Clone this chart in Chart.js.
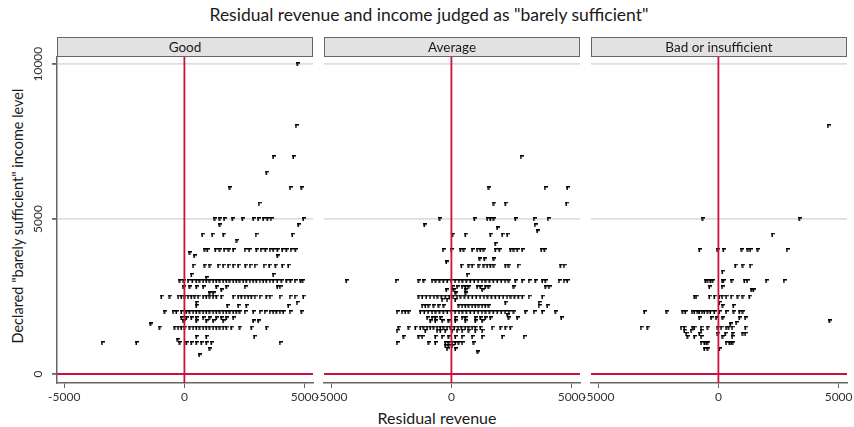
<!DOCTYPE html>
<html>
<head>
<meta charset="utf-8">
<script src="https://cdn.jsdelivr.net/npm/chart.js@4.4.1/dist/chart.umd.min.js"></script>
<style>
  body{margin:0;width:854px;height:427px;background:#fff;font-family:Lato,"DejaVu Sans",sans-serif;position:relative;overflow:hidden;color:#1a1a1a}
  .box{position:absolute}
  .strip{position:absolute;top:37px;height:18px;width:254px;background:#e2e2e2;border:1px solid #666;text-align:center;font-size:13.5px;line-height:18px;z-index:2}
  #title{position:absolute;top:4px;left:0;width:858px;text-align:center;font-size:17.5px}
  #ytitle{position:absolute;left:17px;top:216px;transform:translate(-50%,-50%) rotate(-90deg);white-space:nowrap;font-size:14.5px}
  #xtitle{position:absolute;top:408px;left:0;width:874px;text-align:center;font-size:16px}
</style>
</head>
<body>
<div id="title">Residual revenue and income judged as "barely sufficient"</div>
<div id="ytitle">Declared "barely sufficient" income level</div>
<div id="xtitle">Residual revenue</div>

<script>
// panel names
const panels = ["Good", "Average", "Bad or insufficient"];
const xTicks = [-5000, 0, 5000];
const yTicks = [0, 5000, 10000];

// [residual revenue, declared income]
const goodPoints = [
  [4736,10000],[4667,8000],[3722,7000],[4556,7000],[3446,6500],[1917,6000],[4417,6000],[4904,6000],[3125,5500],
  [1292,5000],[1500,5000],[1681,5000],[2028,5000],[2445,5000],[2889,5000],[3097,5000],[3306,5000],[3486,5000],[3625,5000],[4972,5000],
  [1500,4800],[4764,4800],
  [764,4500],[1181,4500],[1653,4500],[3000,4500],[4514,4500],[2208,4300],
  [875,4000],[986,4000],[1319,4000],[1500,4000],[1681,4000],[1875,4000],[2056,4000],[2542,4000],[2722,4000],[3028,4000],
  [3208,4000],[3403,4000],[3583,4000],[3722,4000],[3903,4000],[4097,4000],[4278,4000],[4458,4000],[4653,4000],
  [250,3900],[431,3800],[3903,3800],
  [389,3500],[875,3500],[1083,3500],[1431,3500],[1639,3500],[1847,3500],[2056,3500],[2264,3500],[2569,3500],[2750,3500],
  [2958,3500],[3333,3500],[3556,3500],[3819,3500],[4097,3500],[4347,3500],
  [319,3200],[3722,3200],[944,3100],
  [-167,3000],[0,3000],[181,3000],[361,3000],[528,3000],[667,3000],[806,3000],[944,3000],[1083,3000],[1222,3000],[1361,3000],
  [1500,3000],[1639,3000],[1778,3000],[1917,3000],[2056,3000],[2194,3000],[2333,3000],[2472,3000],[2611,3000],[2750,3000],
  [2889,3000],[3028,3000],[3167,3000],[3306,3000],[3444,3000],[3583,3000],[3722,3000],[3889,3000],[4069,3000],[4278,3000],
  [4444,3000],[4625,3000],[4861,3000],[4950,3000],
  [-28,2800],[250,2800],[528,2800],[806,2800],[1361,2800],[1778,2800],[2542,2800],[3889,2800],[4000,2800],
  [1569,2700],[1083,2600],[1222,2600],
  [-931,2500],[-583,2500],[-236,2500],[-97,2500],[42,2500],[181,2500],[319,2500],[458,2500],[597,2500],[806,2500],[944,2500],
  [1083,2500],[1222,2500],[1361,2500],[1569,2500],[2056,2500],[2264,2500],[2403,2500],[2542,2500],[2681,2500],[2819,2500],
  [2958,2500],[3167,2500],[3444,2500],[3583,2500],[4000,2500],[4417,2500],[4625,2500],[4972,2500],
  [528,2300],[4708,2300],[528,2200],[1819,2200],[2264,2200],[2611,2200],[4347,2200],
  [-792,2000],[-444,2000],[-306,2000],[-97,2000],[111,2000],[250,2000],[389,2000],[528,2000],[667,2000],[806,2000],[944,2000],
  [1083,2000],[1222,2000],[1361,2000],[1500,2000],[1639,2000],[1778,2000],[1917,2000],[2056,2000],[2194,2000],[2333,2000],
  [2542,2000],[2889,2000],[3167,2000],[3375,2000],[3583,2000],[3722,2000],[3861,2000],[4000,2000],[4139,2000],[4417,2000],[4903,2000],
  [-97,1800],[111,1800],[319,1800],[528,1800],[806,1800],[1083,1800],[1361,1800],[1569,1800],[1778,1800],[2056,1800],
  [-28,1700],[528,1700],[944,1700],[1222,1700],[1639,1700],[2889,1700],[3097,1700],[-1375,1600],
  [-1000,1500],[-375,1500],[-236,1500],[-97,1500],[42,1500],[250,1500],[389,1500],[528,1500],[667,1500],[806,1500],[944,1500],
  [1083,1500],[1222,1500],[1361,1500],[1500,1500],[1639,1500],[1778,1500],[1986,1500],[2333,1500],[2819,1500],[3444,1500],
  [528,1200],[944,1200],[2930,1200],[-250,1100],
  [-3403,1000],[-1972,1000],[-167,1000],[111,1000],[319,1000],[528,1000],[736,1000],[944,1000],[1153,1000],[4000,1000],
  [1083,800],[639,600]
];

const averagePoints = [
  [2917,7000],[1583,6000],[3917,6000],[4847,6000],[1792,5500],[2278,5500],[4806,5500],
  [-458,5000],[986,5000],[1514,5000],[1653,5000],[1792,5000],[2695,5000],[3458,5000],[4042,5000],
  [-1097,4800],[3500,4800],[1931,4700],[3597,4600],
  [83,4500],[611,4500],[1653,4500],[2139,4500],[2347,4500],[1861,4200],
  [-319,4000],[28,4000],[403,4000],[542,4000],[889,4000],[1097,4000],[1236,4000],[1375,4000],[1861,4000],[2028,4000],
  [2486,4000],[2625,4000],[2764,4000],[2972,4000],[3764,4000],[3903,4000],
  [1208,3700],[1403,3700],[1792,3700],[-181,3600],
  [444,3500],[750,3500],[889,3500],[1167,3500],[1375,3500],[1514,3500],[1653,3500],[1792,3500],[2278,3500],[2417,3500],
  [2792,3500],[4569,3500],[4708,3500],[681,3200],
  [-4347,3000],[-2278,3000],[-1333,3000],[-1125,3000],[-778,3000],[-620,3000],[-460,3000],[-300,3000],[-140,3000],[20,3000],
  [180,3000],[340,3000],[500,3000],[660,3000],[820,3000],[980,3000],[1140,3000],[1300,3000],[1460,3000],[1620,3000],
  [1780,3000],[1940,3000],[2100,3000],[2260,3000],[2417,3000],[2694,3000],[2972,3000],[3250,3000],[3528,3000],[3806,3000],
  [3944,3000],[4500,3000],[4708,3000],[4847,3000],
  [56,2800],[264,2800],[472,2800],[611,2800],[750,2800],[1097,2800],[1236,2800],[1444,2800],[1583,2800],[2625,2800],[3944,2800],[4083,2800],
  [-181,2700],[125,2700],[611,2700],[1306,2700],[208,2600],[625,2600],
  [-1333,2500],[-1180,2500],[-1020,2500],[-860,2500],[-700,2500],[-540,2500],[-380,2500],[-220,2500],[-60,2500],[100,2500],
  [260,2500],[420,2500],[580,2500],[740,2500],[900,2500],[1060,2500],[1220,2500],[1380,2500],[1540,2500],[1700,2500],
  [1860,2500],[2020,2500],[2180,2500],[2340,2500],[2500,2500],[2660,2500],[2820,2500],[2980,2500],[3250,2500],[3806,2500],
  [-361,2400],[-153,2400],[194,2400],[2278,2300],[3667,2300],
  [-1194,2200],[-1056,2200],[-917,2200],[-708,2200],[-500,2200],[-292,2200],[333,2200],[472,2200],[611,2200],[750,2200],
  [889,2200],[1028,2200],[1167,2200],[1306,2200],[1444,2200],[1583,2200],[3667,2200],[4014,2200],
  [-2236,2000],[-2028,2000],[-1889,2000],[-1750,2000],[-1264,2000],[-1100,2000],[-940,2000],[-780,2000],[-620,2000],[-460,2000],
  [-300,2000],[-140,2000],[20,2000],[180,2000],[340,2000],[500,2000],[660,2000],[820,2000],[980,2000],[1140,2000],[1300,2000],
  [1460,2000],[1620,2000],[1780,2000],[1940,2000],[2100,2000],[2260,2000],[2420,2000],[2625,2000],[3111,2000],[3458,2000],
  [3806,2000],[4361,2000],[2361,1900],
  [-986,1800],[-778,1800],[-639,1800],[-431,1800],[194,1800],[472,1800],[611,1800],[1028,1800],[1236,1800],[1444,1800],
  [1653,1800],[2417,1800],[2764,1800],[4597,1800],
  [-847,1700],[-639,1700],[-361,1700],[-83,1700],[194,1700],[611,1700],[1028,1700],[1306,1700],
  [-2167,1500],[-1750,1500],[-1472,1500],[-1264,1500],[-1125,1500],[-986,1500],[-847,1500],[-708,1500],[-569,1500],[-431,1500],
  [-292,1500],[-153,1500],[0,1500],[150,1500],[300,1500],[450,1500],[600,1500],[750,1500],[889,1500],[1028,1500],[1236,1500],
  [1722,1500],[2069,1500],[2278,1500],[2486,1500],
  [-2236,1400],[-1056,1400],[-569,1400],[-431,1400],[-222,1400],[56,1400],[264,1400],[472,1400],[750,1400],[1028,1400],[1306,1400],
  [-1958,1200],[-1333,1200],[-1194,1200],[-639,1200],[-361,1200],[-83,1200],[194,1200],[472,1200],[889,1200],[1306,1200],
  [2139,1200],[3042,1200],
  [-2236,1000],[-917,1000],[-639,1000],[-222,1000],[-83,1000],[56,1000],[194,1000],[333,1000],[472,1000],[958,1000],
  [-222,900],[-83,900],[56,900],[-153,800],[194,800],[1125,700]
];

const badPoints = [
  [4583,8000],[-625,5000],[3403,5000],[2264,4500],
  [-764,4000],[-28,4000],[236,4000],[1000,4000],[1250,4000],[1347,4000],[1667,4000],[2875,4000],
  [736,3500],[1042,3500],[1347,3500],[194,3300],
  [-514,3000],[-417,3000],[-306,3000],[-208,3000],[181,3000],[236,3000],[583,3000],[1111,3000],[1222,3000],[2014,3000],[2750,3000],
  [-347,2800],[181,2800],[1389,2700],[1486,2700],
  [-972,2500],[-903,2500],[-347,2500],[-139,2500],[69,2500],[181,2500],[347,2500],[556,2500],[833,2500],[1042,2500],[1319,2500],
  [69,2300],[208,2200],[653,2200],
  [-3056,2000],[-2125,2000],[-1458,2000],[-1347,2000],[-1069,2000],[-972,2000],[-833,2000],[-764,2000],[-653,2000],[-556,2000],
  [-417,2000],[-306,2000],[-139,2000],[69,2000],[347,2000],[667,2000],[903,2000],[1042,2000],
  [-764,1800],[-278,1800],[-69,1800],[208,1800],[903,1800],[1139,1800],
  [4653,1700],[528,1600],[764,1650],
  [-3194,1500],[-2917,1500],[-1528,1500],[-1389,1500],[-1042,1500],[-972,1500],[-694,1500],[-417,1500],[0,1500],[139,1500],
  [347,1500],[458,1500],[597,1500],[1153,1500],
  [-1389,1400],[-1111,1400],[-694,1400],
  [-1319,1300],[-764,1300],[0,1300],[319,1300],[625,1300],[1042,1300],[1139,1300],
  [-1250,1200],[-972,1200],[-694,1200],[208,1200],[597,1200],
  [-694,1000],[-556,1000],[-486,1000],[-417,1000],[347,1000],[486,1000],[556,1000],[625,1000],
  [-556,800],[-417,800],[69,800]
];

const allPoints = [goodPoints, averagePoints, badPoints];

const xMin = -5300, xMax = 5350;
const yMin = -290, yMax = 10230;
const panelLeft = [57, 324, 591];
const panelW = 256;
const red = '#d0103c';

// small "r" shaped marker
const mark = document.createElement('canvas');
mark.width = 4; mark.height = 4;
const mc = mark.getContext('2d');
mc.fillStyle = '#000';
mc.fillRect(0, 0, 4, 1.5);
mc.fillRect(0.5, 0, 1.5, 4);

const yLabels = {
  id: 'yLabels',
  afterDraw(chart) {
    if (chart.options.plugins.yLabels.show !== true) return;
    const ctx = chart.ctx, y = chart.scales.y;
    ctx.save();
    ctx.fillStyle = '#333';
    ctx.font = '12px Lato';
    ctx.textAlign = 'center';
    ctx.textBaseline = 'middle';
    yTicks.forEach(v => {
      ctx.save();
      ctx.translate(chart.chartArea.left - 19, y.getPixelForValue(v));
      ctx.rotate(-Math.PI / 2);
      ctx.fillText(String(v), 0, 0);
      ctx.restore();
    });
    ctx.restore();
  }
};

panels.forEach((name, i) => {
  const strip = document.createElement('div');
  strip.className = 'strip';
  strip.style.left = panelLeft[i] + 'px';
  strip.textContent = name;
  document.body.appendChild(strip);

  const box = document.createElement('div');
  box.className = 'box';
  box.style.left = (panelLeft[i] - 30) + 'px';
  box.style.top = '27px';
  box.style.width = (panelW + 50) + 'px';
  box.style.height = '383px';
  const cv = document.createElement('canvas');
  box.appendChild(cv);
  document.body.appendChild(box);

  const first = i === 0;
  new Chart(cv, {
    type: 'scatter',
    data: {
      datasets: [
        { type: 'line', data: [{x: 0, y: yMin}, {x: 0, y: yMax}], borderColor: red, borderWidth: 1.8, pointRadius: 0 },
        { type: 'line', data: [{x: xMin, y: 0}, {x: xMax, y: 0}], borderColor: red, borderWidth: 1.8, pointRadius: 0 },
        {
          data: allPoints[i].map(p => ({x: p[0], y: p[1]})),
          pointStyle: mark, pointRadius: 2
        }
      ]
    },
    options: {
      responsive: true,
      maintainAspectRatio: false,
      animation: false,
      events: [],
      layout: { autoPadding: false, padding: { left: first ? 0 : 30, right: 20, top: 30, bottom: 0 } },
      plugins: { legend: { display: false }, tooltip: { enabled: false }, yLabels: { show: first } },
      scales: {
        x: {
          type: 'linear', min: xMin, max: xMax,
          afterBuildTicks: s => { s.ticks = xTicks.map(v => ({value: v})); },
          afterFit: s => { s.height = 27; },
          grid: { drawOnChartArea: false, drawTicks: true, tickLength: 5, tickColor: '#666' },
          border: { color: '#666', width: 1.5 },
          ticks: { autoSkip: false, maxRotation: 0, color: '#333', font: { family: 'Lato', size: 12 }, padding: 2,
                   callback: v => String(v) }
        },
        y: {
          type: 'linear', min: yMin, max: yMax,
          afterBuildTicks: s => { s.ticks = yTicks.map(v => ({value: v})); },
          afterFit: s => { s.width = first ? 30 : 0; },
          grid: { color: '#dedede', lineWidth: 1.8, drawTicks: first, tickLength: 5, tickColor: '#666' },
          border: { display: first, color: '#666', width: 1.5 },
          ticks: { display: false }
        }
      }
    },
    plugins: [yLabels]
  });
});
</script>
</body>
</html>
